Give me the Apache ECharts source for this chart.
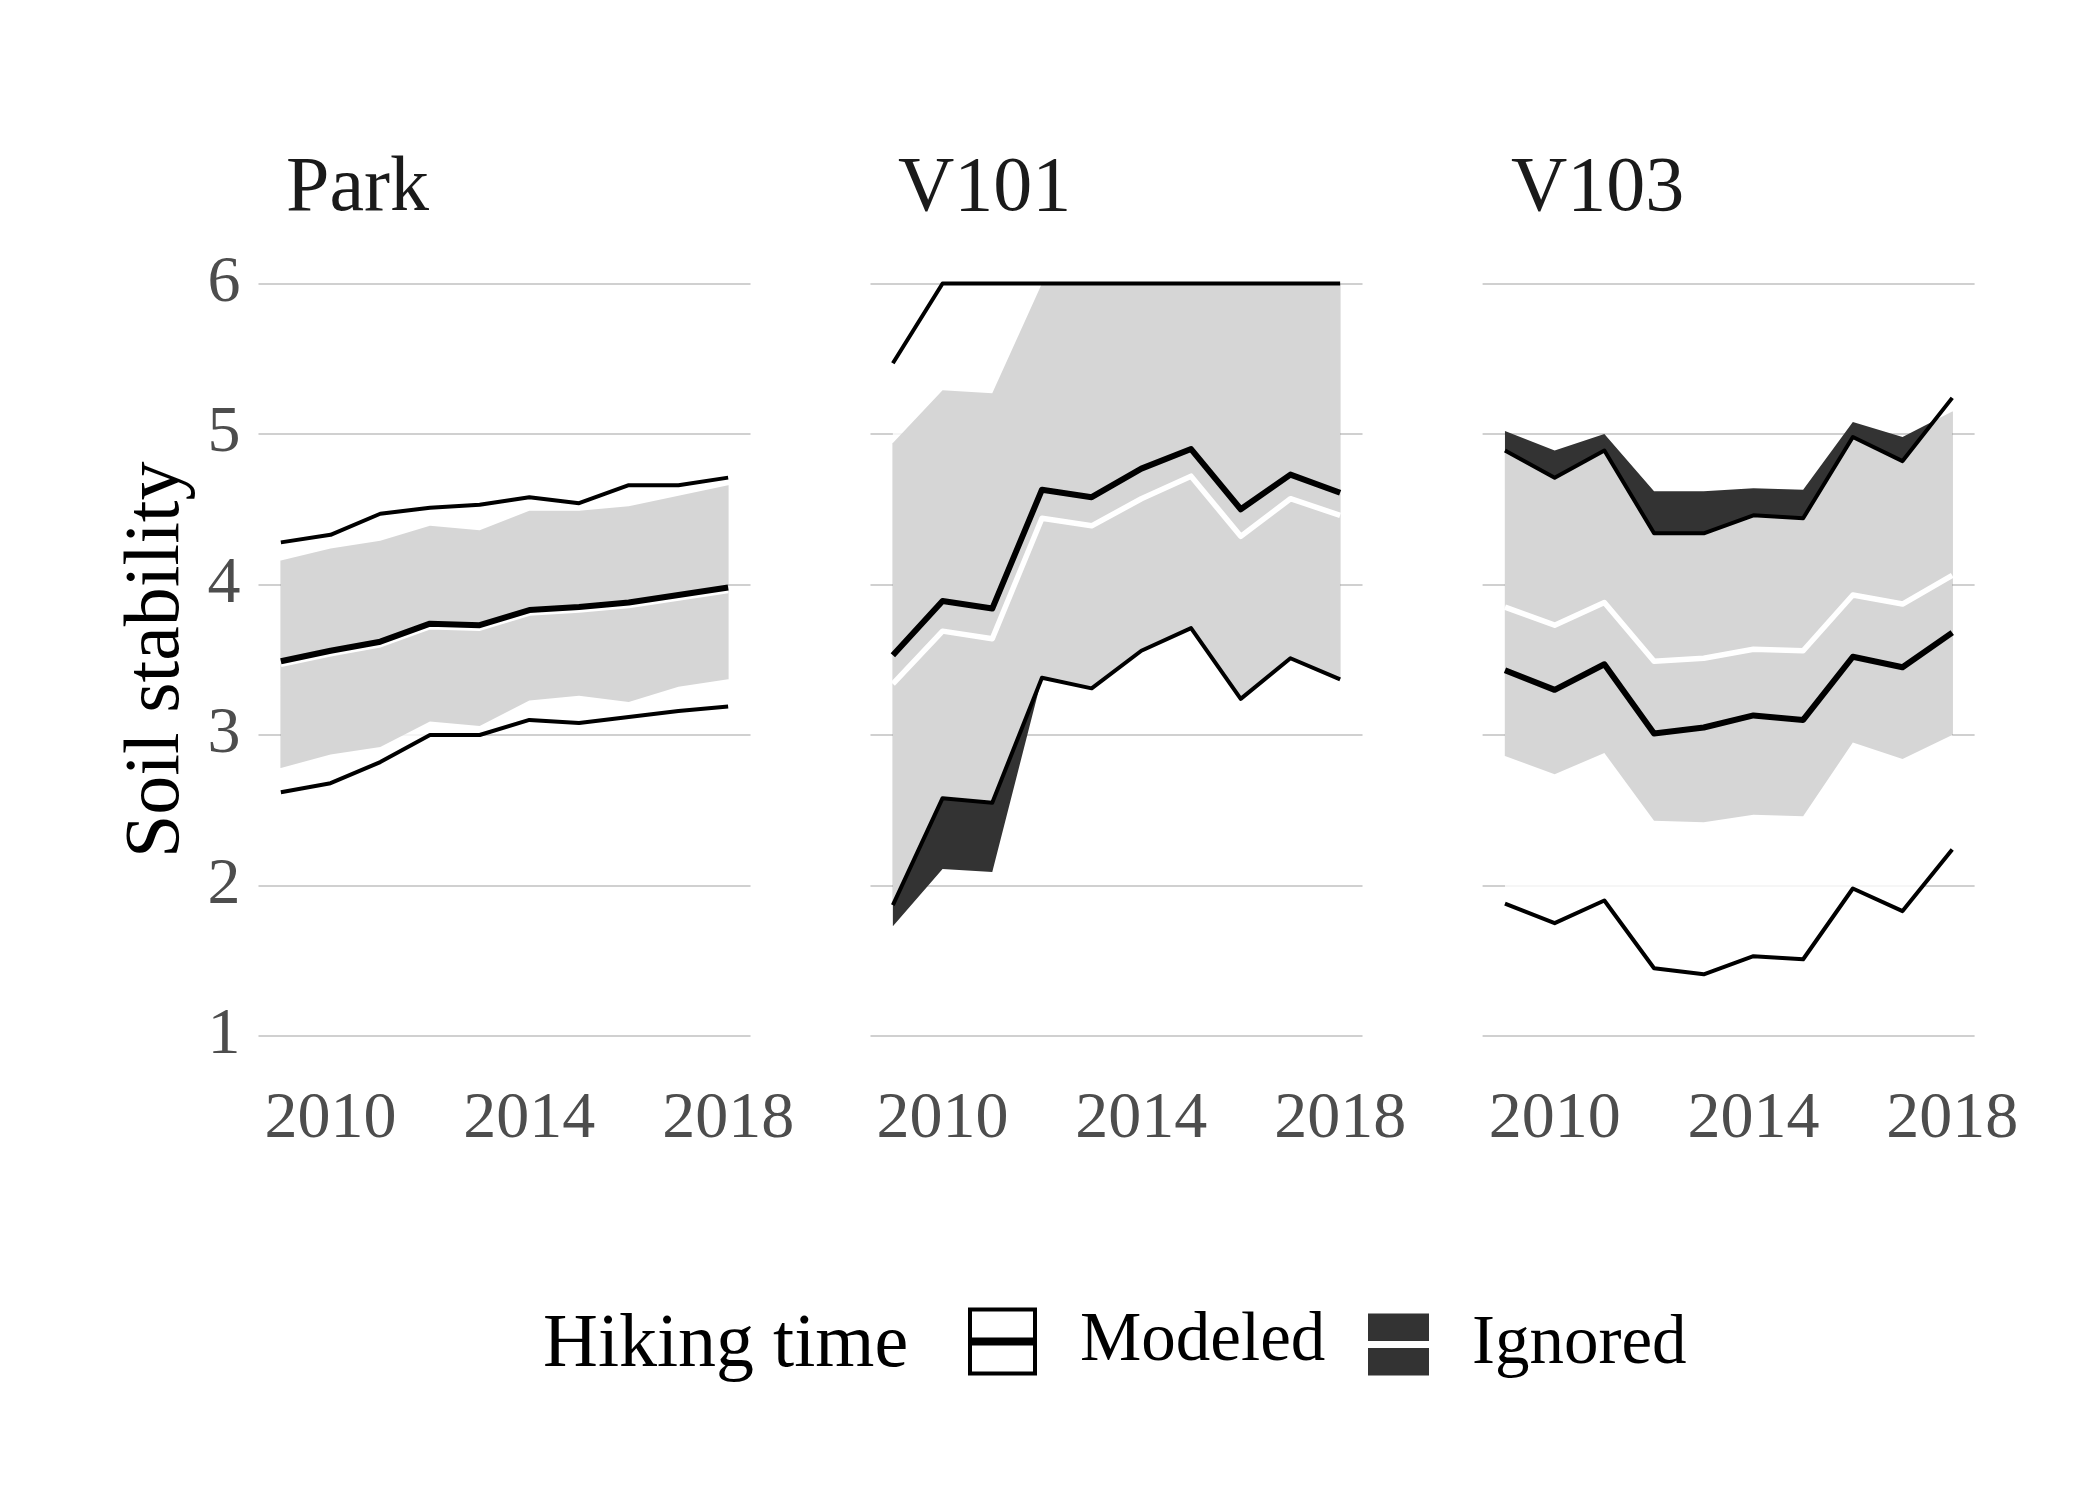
<!DOCTYPE html>
<html>
<head>
<meta charset="utf-8">
<script src="https://cdn.jsdelivr.net/npm/echarts@6/dist/echarts.min.js"></script>
<style>html,body{margin:0;padding:0;background:#fff;}#chart{width:2100px;height:1500px;}</style>
</head>
<body>
<div id="chart"></div>
<script>
// ---- data ----
const years = [2009, 2010, 2011, 2012, 2013, 2014, 2015, 2016, 2017, 2018];
const panelNames = ['Park', 'V101', 'V103'];
const xTickValues = [2010, 2014, 2018];
const yTickValues = [1, 2, 3, 4, 5, 6];

// Park
const parkModeledLower = [2.62, 2.68, 2.82, 3.00, 3.00, 3.10, 3.08, 3.12, 3.16, 3.19];
const parkModeledMean  = [3.49, 3.56, 3.62, 3.74, 3.73, 3.83, 3.85, 3.88, 3.93, 3.98];
const parkModeledUpper = [4.28, 4.33, 4.47, 4.51, 4.53, 4.58, 4.54, 4.66, 4.66, 4.71];
const parkIgnoredLower = [2.78, 2.87, 2.92, 3.09, 3.06, 3.23, 3.26, 3.22, 3.32, 3.37];
const parkIgnoredMean  = [3.47, 3.54, 3.60, 3.72, 3.71, 3.81, 3.83, 3.86, 3.91, 3.96];
const parkIgnoredUpper = [4.16, 4.24, 4.29, 4.39, 4.36, 4.49, 4.49, 4.52, 4.59, 4.66];

// V101
const v101ModeledLower = [1.87, 2.58, 2.55, 3.38, 3.31, 3.56, 3.71, 3.24, 3.51, 3.37];
const v101ModeledMean  = [3.53, 3.89, 3.84, 4.63, 4.58, 4.77, 4.90, 4.50, 4.73, 4.61];
const v101ModeledUpper = [5.47, 6, 6, 6, 6, 6, 6, 6, 6, 6];
const v101IgnoredLower = [1.73, 2.11, 2.09, 3.38, 3.31, 3.56, 3.71, 3.24, 3.51, 3.37];
const v101IgnoredMean  = [3.34, 3.69, 3.64, 4.44, 4.39, 4.57, 4.72, 4.32, 4.57, 4.46];
const v101IgnoredUpper = [4.94, 5.29, 5.27, 6, 6, 6, 6, 6, 6, 6];

// V103
const v103ModeledLower = [1.88, 1.75, 1.90, 1.45, 1.41, 1.53, 1.51, 1.98, 1.83, 2.24];
const v103ModeledMean  = [3.43, 3.30, 3.47, 3.01, 3.05, 3.13, 3.10, 3.52, 3.45, 3.68];
const v103ModeledUpper = [4.89, 4.71, 4.89, 4.34, 4.34, 4.46, 4.44, 4.98, 4.82, 5.24];
const v103IgnoredLower = [2.86, 2.74, 2.88, 2.43, 2.42, 2.47, 2.46, 2.95, 2.84, 3.00];
const v103IgnoredMean  = [3.85, 3.73, 3.88, 3.49, 3.51, 3.57, 3.56, 3.93, 3.87, 4.06];
const v103IgnoredUpper = [5.02, 4.89, 5.00, 4.62, 4.62, 4.64, 4.63, 5.08, 4.98, 5.15];

// ---- build ----
const panels = [
  {modLo: parkModeledLower, modMean: parkModeledMean, modHi: parkModeledUpper,
   ignLo: parkIgnoredLower, ignMean: parkIgnoredMean, ignHi: parkIgnoredUpper},
  {modLo: v101ModeledLower, modMean: v101ModeledMean, modHi: v101ModeledUpper,
   ignLo: v101IgnoredLower, ignMean: v101IgnoredMean, ignHi: v101IgnoredUpper},
  {modLo: v103ModeledLower, modMean: v103ModeledMean, modHi: v103ModeledUpper,
   ignLo: v103IgnoredLower, ignMean: v103IgnoredMean, ignHi: v103IgnoredUpper}
];

const FONT = 'Liberation Serif';
const gridLefts = [258.5, 870.5, 1482.6];
const titleLefts = [286, 898, 1511];
const GRID_TOP = 283.5, GRID_W = 492, GRID_H = 752.5;

const pairs = arr => years.map((y, i) => [y, arr[i]]);

function ribbon(i, lo, hi, fill, z, name) {
  return {
    type: 'custom', name: name, xAxisIndex: i, yAxisIndex: i, z: z,
    silent: true,
    data: [[years[0], lo[0]]],
    renderItem: function (params, api) {
      const top = hi.map((v, k) => api.coord([years[k], v]));
      const bot = lo.map((v, k) => api.coord([years[k], v])).reverse();
      return {type: 'polygon', shape: {points: top.concat(bot)}, style: {fill: fill, stroke: null}};
    }
  };
}
function line(i, arr, color, width, z, name) {
  return {
    type: 'line', name: name, xAxisIndex: i, yAxisIndex: i, z: z,
    data: pairs(arr), symbol: 'none', clip: false, silent: true,
    lineStyle: {color: color, width: width, cap: 'butt', join: 'round'},
    itemStyle: {color: color}
  };
}

const series = [];
panels.forEach((p, i) => {
  series.push(ribbon(i, p.ignLo, p.ignHi, '#333333', 1, 'ignRibbon' + i));
  series.push(ribbon(i, p.modLo, p.modHi, 'rgba(255,255,255,0.8)', 2, 'modRibbon' + i));
  series.push(line(i, p.modLo, '#000', 4, 3, 'modLo' + i));
  series.push(line(i, p.modHi, '#000', 4, 3, 'modHi' + i));
  series.push(line(i, p.ignMean, '#fff', 5.5, 3, 'Ignored'));
  series.push(line(i, p.modMean, '#000', 6, 4, 'Modeled'));
});

const modeledIcon = 'path://M0,0H69V68H0Z M4,4V30H65V4Z M4,38V64H65V38Z';
const ignoredIcon = 'path://M0,0H61V27.5H0Z M0,34.5H61V62H0Z';

const titles = panelNames.map((n, i) => ({
  text: n, left: titleLefts[i], top: 151, padding: 0,
  textStyle: {fontFamily: FONT, fontSize: 78, fontWeight: 'normal', color: '#1a1a1a'}
}));
titles.push({
  text: 'Hiking time', left: 543, top: 1308, padding: 0,
  textStyle: {fontFamily: FONT, fontSize: 76, fontWeight: 'normal', color: '#000'}
});

const option = {
  animation: false,
  backgroundColor: '#ffffff',
  textStyle: {fontFamily: FONT},
  title: titles,
  legend: [
    {data: [{name: 'Modeled', icon: modeledIcon, itemStyle: {color: '#000'}}],
     left: 968, top: 1307, padding: 0, itemWidth: 69, itemHeight: 68, selectedMode: false,
     textStyle: {fontFamily: FONT, fontSize: 69, color: '#000', padding: [4, 0, 0, 38]}},
    {data: [{name: 'Ignored', icon: ignoredIcon, itemStyle: {color: '#333333'}}],
     left: 1368, top: 1310, padding: 0, itemWidth: 61, itemHeight: 62, selectedMode: false,
     textStyle: {fontFamily: FONT, fontSize: 69, color: '#000', padding: [4, 0, 0, 38]}}
  ],
  grid: panelNames.map((n, i) => ({left: gridLefts[i], top: GRID_TOP, width: GRID_W, height: GRID_H})),
  xAxis: panelNames.map((n, i) => ({
    gridIndex: i, type: 'value', min: 2008.55, max: 2018.45,
    axisLine: {show: false}, axisTick: {show: false}, splitLine: {show: false},
    axisLabel: {customValues: xTickValues, fontFamily: FONT, fontSize: 66, color: '#4d4d4d', margin: 51,
      formatter: v => String(v)}
  })),
  yAxis: panelNames.map((n, i) => ({
    gridIndex: i, type: 'value', min: yTickValues[0], max: yTickValues[yTickValues.length - 1], interval: 1,
    axisLine: {show: false}, axisTick: {show: false},
    splitLine: {show: true, lineStyle: {color: '#d0d0d0', width: 2}},
    axisLabel: {show: i === 0, fontFamily: FONT, fontSize: 66, color: '#4d4d4d', margin: 18,
      formatter: v => String(v)},
    name: i === 0 ? 'Soil stability' : '',
    nameLocation: 'middle', nameRotate: 90, nameGap: 62,
    nameTextStyle: {fontFamily: FONT, fontSize: 78, color: '#000'}
  })),
  series: series
};

const chart = echarts.init(document.getElementById('chart'), null, {renderer: 'canvas'});
chart.setOption(option);
</script>
</body>
</html>
